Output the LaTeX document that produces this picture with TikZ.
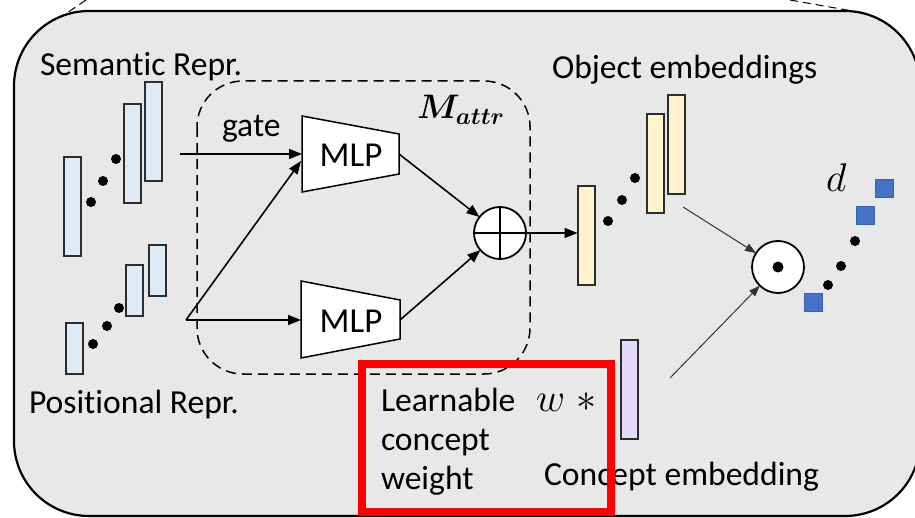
\documentclass[tikz,border=0pt]{standalone}
\usepackage{fix-cm}
\usepackage{fontspec}
\setmainfont{Carlito}[Ligatures={NoCommon}, Contextuals={NoAlternate}, RawFeature={-liga;-clig;-calt}]
\usepackage{bm}
\usetikzlibrary{arrows.meta}

\definecolor{panel}{HTML}{E8E8E8}
\definecolor{semfill}{HTML}{DEEBF7}
\definecolor{objfill}{HTML}{FFF2CC}
\definecolor{conceptfill}{HTML}{E2DAF8}
\definecolor{sqblue}{HTML}{4472C4}
\definecolor{sqedge}{HTML}{3A62AA}
\definecolor{barline}{HTML}{2C2C2C}
\definecolor{thinline}{HTML}{333333}

\begin{document}
\begin{tikzpicture}[x=1pt,y=-1pt,
  every node/.style={inner sep=0pt, outer sep=0pt},
  lbl/.style={font=\fontsize{33.6}{39}\selectfont, anchor=base west},
  vbar/.style={draw=barline, line width=2pt, minimum width=17pt},
  longbar/.style={vbar, minimum height=99pt},
  shortbar/.style={vbar, minimum height=51pt},
  sembar/.style={fill=semfill},
  objbar/.style={fill=objfill},
  conbar/.style={fill=conceptfill},
  bluesq/.style={fill=sqblue, draw=sqedge, line width=0.8pt, minimum size=18pt},
  opcircle/.style={circle, draw=black, fill=white, line width=1.8pt, minimum size=52pt},
  mlpbox/.style={draw=black, fill=white, line width=1.5pt, line join=miter},
  arr/.style={line width=1.6pt, -{Triangle[length=13pt,width=10pt]}},
  thinarr/.style={draw=thinline, line width=1pt, -{Triangle[length=11pt,width=8pt]}},
  dotmark/.style={fill=black},
]
% canvas
\fill[white] (0,0) rectangle (915,518);
\useasboundingbox (0,0) rectangle (915,518);

% outer panel
\begin{scope}
  \clip (0,0) rectangle (915,518);
  \draw[fill=panel, line width=2.2pt, rounded corners=75pt] (14,11) rectangle (920,516);
\end{scope}

% zoom guide lines at the top
\coordinate (zl1) at (86,0);
\coordinate (zl2) at (61,17);
\coordinate (zr1) at (790,0);
\coordinate (zr2) at (858,12);
\draw[dashed, line width=1pt, dash pattern=on 8pt off 5pt] (zl1) -- (zl2);
\draw[dashed, line width=1pt, dash pattern=on 8pt off 5pt] (zr1) -- (zr2);

% attribute module frame
\draw[line width=1.5pt, dash pattern=on 10pt off 6pt, rounded corners=46pt] (197,81) rectangle (530,374);
\node[anchor=base west, font=\fontsize{34}{40}\selectfont] (mattr) at (417,119) {$\bm{M}_{\bm{attr}}$};

% semantic representations
\node[longbar, sembar] (s1) at (72.5,206.5) {};
\node[longbar, sembar] (s2) at (132,153.5) {};
\node[longbar, sembar] (s3) at (153.5,132) {};
\fill[dotmark] (91,202) circle (5pt) (103,181) circle (5pt) (116,159) circle (5pt);
\node[lbl] (semlbl) at (40,76) {Semantic Repr.};

% positional representations
\node[shortbar, sembar] (p1) at (74.5,348.5) {};
\node[shortbar, sembar] (p2) at (134.5,290.5) {};
\node[shortbar, sembar] (p3) at (157,271) {};
\fill[dotmark] (93,344) circle (5pt) (107,326) circle (5pt) (119,308) circle (5pt);
\node[lbl] (poslbl) at (29,413) {Positional Repr.};

% MLP blocks
\draw[mlpbox] (302,116) -- (399,134) -- (399,174) -- (302,192) -- cycle;
\draw[mlpbox] (301,281) -- (400,300) -- (400,339) -- (301,358) -- cycle;
\node[anchor=base, font=\fontsize{35}{40}\selectfont] (mlp1) at (351,167) {MLP};
\node[anchor=base, font=\fontsize{35}{40}\selectfont] (mlp2) at (351,333) {MLP};
\coordinate (mlp1in) at (302,154);
\coordinate (mlp1low) at (301,161);
\coordinate (mlp1out) at (399,154);
\coordinate (mlp2in) at (301,320);
\coordinate (mlp2out) at (400,320);

% gate input and positional fork
\coordinate (gatestart) at (180,154);
\coordinate (fork) at (186,320);
\node[lbl] (gatelbl) at (222,137) {gate};
\draw[arr] (gatestart) -- (mlp1in);
\draw[arr] (fork) -- (mlp2in);
\draw[arr] (fork) -- (mlp1low);

% sum
\node[opcircle] (sum) at (500,233) {};
\draw[line width=1.5pt] (sum.north) -- (sum.south) (sum.west) -- (sum.east);
\draw[arr] (mlp1out) -- (sum);
\draw[arr] (mlp2out) -- (sum);

% object embeddings
\node[longbar, objbar] (o1) at (586,236) {};
\node[longbar, objbar] (o2) at (655,164) {};
\node[longbar, objbar] (o3) at (676,145) {};
\fill[dotmark] (608,221) circle (5pt) (622,200) circle (5pt) (635,178) circle (5pt);
\node[lbl] (objlbl) at (552,79) {Object embeddings};
\draw[arr] (sum.east) -- (o1.west |- sum.east);

% concept embedding
\node[longbar, conbar] (c1) at (629,389.5) {};
\node[lbl] (conlbl) at (544,485) {Concept embedding};
\node[anchor=base west, font=\fontsize{40}{48}\selectfont] (wlbl) at (536,411) {$w\;\ast$};
\node[lbl] (learn1) at (381,411) {Learnable};
\node[lbl] (learn2) at (381,450) {concept};
\node[lbl] (learn3) at (381,489) {weight};

% product
\node[opcircle] (prod) at (778,267) {};
\fill[black] (prod.center) circle (5.5pt);
\coordinate (objtail) at (683,207);
\coordinate (contail) at (670,378);
\draw[thinarr] (objtail) -- (prod);
\draw[thinarr] (contail) -- (prod);

% distances
\node[bluesq] (d1) at (884.5,188) {};
\node[bluesq] (d2) at (865.5,215.5) {};
\node[bluesq] (d3) at (813.5,302) {};
\fill[dotmark] (828,285) circle (5pt) (841,266) circle (5pt) (855,241) circle (5pt);
\node[anchor=base west, font=\fontsize{40}{48}\selectfont] (dlbl) at (826,192) {$d$};

% highlight
\draw[red, line width=8pt] (361.5,364) rectangle (610.5,511.5);
\end{tikzpicture}
\end{document}
